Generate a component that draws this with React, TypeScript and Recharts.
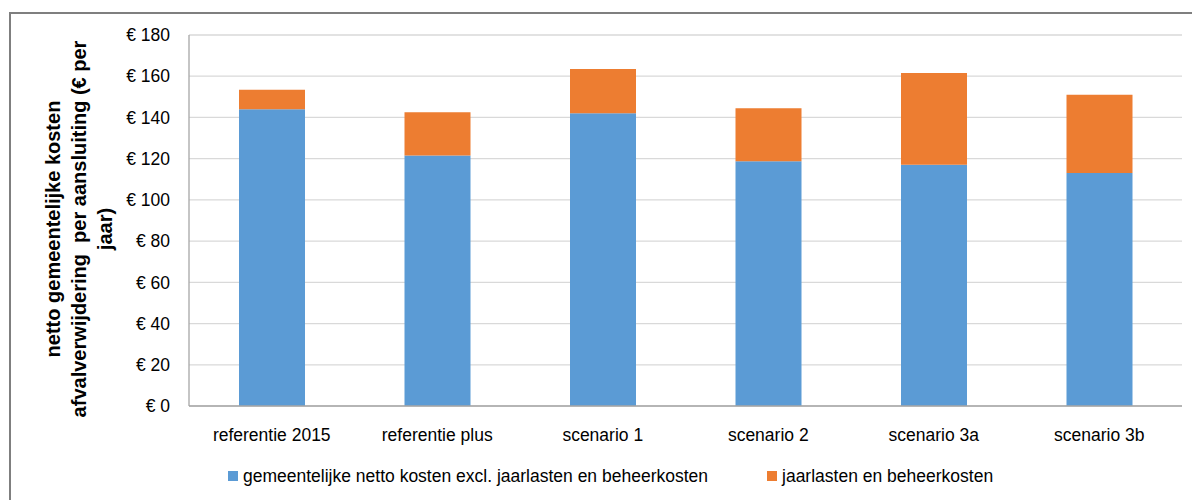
import React from "react";
import { BarChart, Bar, XAxis, YAxis, CartesianGrid } from "recharts";

// ── Data ─────────────────────────────────────────────────────

const categories = [
  "referentie 2015",
  "referentie plus",
  "scenario 1",
  "scenario 2",
  "scenario 3a",
  "scenario 3b",
];
const nettoKosten = [144, 121.5, 142, 118.7, 117.1, 113];
const jaarlasten = [9.4, 21, 21.5, 25.8, 44.5, 38];
const yTicks = [0, 20, 40, 60, 80, 100, 120, 140, 160, 180];

const seriesNames = [
  "gemeentelijke netto kosten excl. jaarlasten en beheerkosten",
  "jaarlasten en beheerkosten",
];
const titleLines = [
  "netto gemeentelijke kosten",
  "afvalverwijdering  per aansluiting (€ per",
  "jaar)",
];

const BLUE = "#5B9BD5";
const ORANGE = "#ED7D31";
const FONT = "'Liberation Sans', Arial, sans-serif";

const data = categories.map((name, i) => ({
  name,
  netto: nettoKosten[i],
  jaarlasten: jaarlasten[i],
}));

// ── Chart ────────────────────────────────────────────────────

export default function App() {
  return (
    <div
      style={{
        position: "absolute",
        left: 0,
        top: 0,
        width: 1192,
        height: 500,
        overflow: "hidden",
        background: "#fff",
        fontFamily: FONT,
      }}
    >
      {/* frame */}
      <div
        style={{
          position: "absolute",
          left: 9,
          top: 12,
          width: 1240,
          height: 540,
          border: "2px solid #7f7f7f",
        }}
      />

      <BarChart
        width={1192}
        height={500}
        data={data}
        margin={{ top: 35, right: 10, bottom: 54, left: 109 }}
        barSize={66}
      >
        <CartesianGrid vertical={false} stroke="#d9d9d9" strokeWidth={1.3} />
        <XAxis
          dataKey="name"
          height={40}
          tickSize={0}
          tickMargin={23}
          axisLine={{ stroke: "#a6a6a6", strokeWidth: 1.3 }}
          tickLine={false}
          tick={{ fill: "#000", fontSize: 17.5, fontFamily: FONT }}
          interval={0}
        />
        <YAxis
          width={80}
          domain={[0, 180]}
          ticks={yTicks}
          tickSize={0}
          tickMargin={19}
          axisLine={{ stroke: "#a6a6a6", strokeWidth: 1.3 }}
          tickLine={false}
          tick={{ fill: "#000", fontSize: 17.5, fontFamily: FONT }}
          tickFormatter={(v: number) => `€ ${v}`}
        />
        <Bar dataKey="netto" stackId="a" fill={BLUE} isAnimationActive={false} />
        <Bar dataKey="jaarlasten" stackId="a" fill={ORANGE} isAnimationActive={false} />
      </BarChart>

      {/* y axis title */}
      <div
        style={{
          position: "absolute",
          left: 79 - 220,
          top: 229 - 39,
          width: 440,
          height: 78,
          transform: "rotate(-90deg)",
          textAlign: "center",
          fontWeight: 700,
          fontSize: 20,
          lineHeight: "26px",
          whiteSpace: "pre",
          color: "#000",
        }}
      >
        {titleLines.map((l) => (
          <div key={l}>{l}</div>
        ))}
      </div>

      {/* legend */}
      <div
        style={{
          position: "absolute",
          left: 228,
          top: 466,
          height: 20,
          display: "flex",
          alignItems: "center",
          fontSize: 17.5,
          color: "#000",
        }}
      >
        {seriesNames.map((n, i) => (
          <div
            key={n}
            style={{ display: "flex", alignItems: "center", marginRight: i === 0 ? 59 : 0 }}
          >
            <span
              style={{
                display: "inline-block",
                width: 10,
                height: 10,
                background: i === 0 ? BLUE : ORANGE,
                marginRight: 5,
              }}
            />
            <span>{n}</span>
          </div>
        ))}
      </div>
    </div>
  );
}
